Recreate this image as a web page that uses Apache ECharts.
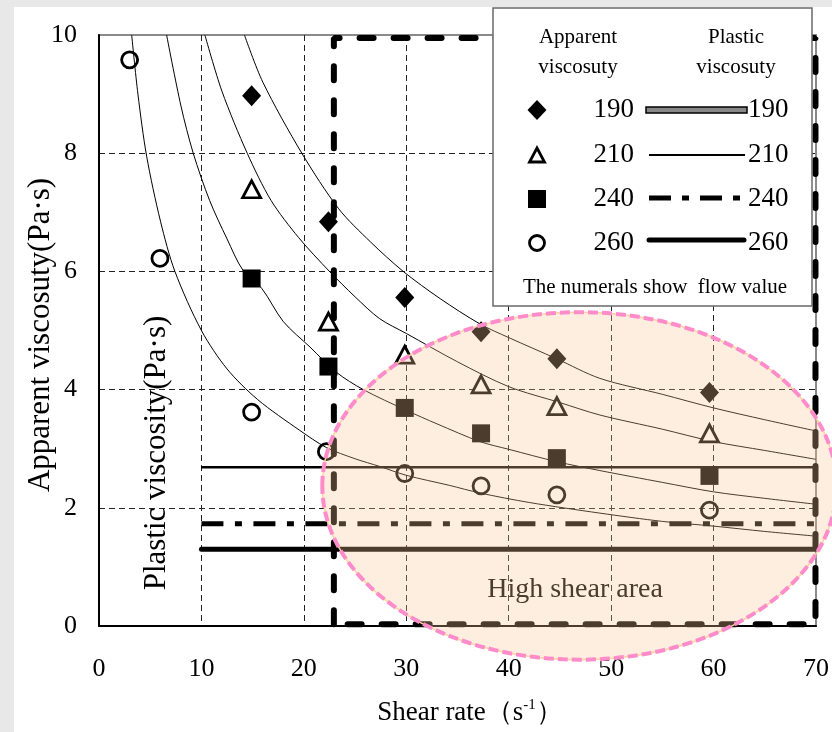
<!DOCTYPE html>
<html><head><meta charset="utf-8">
<script src="https://cdn.jsdelivr.net/npm/echarts@6/dist/echarts.min.js"></script>
<style>html,body{margin:0;padding:0;background:#fff}#c{width:832px;height:732px}</style>
</head><body><div id="c"></div>
<script>
// ---------- data ----------
const xTicks = [0, 10, 20, 30, 40, 50, 60, 70];
const yTicks = [0, 2, 4, 6, 8, 10];
const flowValues = ['190', '210', '240', '260'];

// apparent viscosity measurements (Pa·s) vs shear rate (1/s)
const shearRates = [14.9, 22.4, 29.85, 37.3, 44.7, 59.6];
const app190 = [8.97, 6.84, 5.56, 4.98, 4.52, 3.95];
const app210 = [7.39, 5.15, 4.59, 4.09, 3.72, 3.26];
const app240 = [5.88, 4.39, 3.69, 3.26, 2.84, 2.54];
const shearRates260 = [2.99, 5.95, 14.9, 22.2, 29.85, 37.3, 44.7, 59.6];
const app260 = [9.58, 6.22, 3.62, 2.95, 2.58, 2.37, 2.22, 1.96];

// fitted curves
const fit190X = [14.2, 16, 19.8, 23.4, 26.5, 29.7, 33.3, 37.2, 40, 44.7, 48.9, 55, 60, 65, 70];
const fit190Y = [10, 9.2, 8.0, 7.06, 6.5, 6.0, 5.54, 5.11, 4.88, 4.52, 4.19, 3.92, 3.69, 3.49, 3.30];
const fit210X = [10.34, 12, 14.47, 16.8, 19.5, 22.5, 25, 27.4, 30, 35, 40, 45, 48.9, 55, 60, 65, 70];
const fit210Y = [10, 9.05, 8.0, 7.2, 6.57, 6.0, 5.57, 5.2, 4.95, 4.47, 4.05, 3.78, 3.57, 3.33, 3.12, 2.97, 2.82];
const fit240X = [6.6, 8, 9.2, 10.8, 12.5, 14.05, 15.9, 18, 20.6, 23.2, 25.8, 30, 33, 37.2, 40, 44.7, 48.9, 55, 60, 65, 70];
const fit240Y = [10, 8.8, 8.0, 7.2, 6.55, 6.02, 5.71, 5.15, 4.72, 4.29, 4.0, 3.65, 3.42, 3.12, 2.99, 2.78, 2.63, 2.43, 2.27, 2.16, 2.06];
const fit260X = [3.19, 3.8, 4.65, 6, 7.41, 10, 12.5, 15.5, 19.6, 22.2, 25, 27.4, 30, 34.2, 37.2, 42, 48.9, 55, 60, 65, 70];
const fit260Y = [10, 9.0, 7.95, 6.85, 6.0, 5.0, 4.35, 3.83, 3.31, 3.02, 2.83, 2.7, 2.55, 2.38, 2.25, 2.09, 1.91, 1.77, 1.69, 1.6, 1.52];

// plastic viscosity (horizontal lines)
const plasticFlow = ['210', '240', '260'];
const plasticValues = [2.685, 1.73, 1.30];
const plasticRange = [10, 70];

// high shear region
const highShearX = [22.93, 69.95];
const highShearY = [0.03, 9.95];
const ellipseCenter = [46.9, 2.37];
const ellipseRadii = [25.1, 2.94];

// ---------- chart ----------
const FONT = 'Liberation Serif';
const pts = (xs, ys) => xs.map((x, i) => [x, ys[i]]);
const chart = echarts.init(document.getElementById('c'), null, {renderer: 'canvas'});

function curve(xs, ys) {
  return {type: 'line', data: pts(xs, ys), smooth: 0.3, showSymbol: false, silent: true,
    lineStyle: {color: '#000', width: 1}, z: 2};
}
function scatter(xs, ys, symbol, size, style) {
  return {type: 'scatter', data: pts(xs, ys), symbol, symbolSize: size, silent: true,
    itemStyle: Object.assign({opacity: 1}, style), emphasis: {disabled: true}, z: 3};
}
const plasticStyles = [
  {color: '#000', width: 2.5},
  {color: '#000', width: 5, type: [22, 11.5, 7, 11.5]},
  {color: '#000', width: 5, cap: 'round'}
];

const series = [
  curve(fit190X, fit190Y), curve(fit210X, fit210Y), curve(fit240X, fit240Y), curve(fit260X, fit260Y),
  scatter(shearRates, app190, 'diamond', [19, 21], {color: '#000'}),
  scatter(shearRates, app210, 'triangle', [18, 17], {color: '#fff', borderColor: '#000', borderWidth: 2.8}),
  scatter(shearRates, app240, 'rect', [18, 18], {color: '#000'}),
  scatter(shearRates260, app260, 'circle', 16, {color: 'rgba(255,255,255,0)', borderColor: '#000', borderWidth: 2.8})
];
plasticValues.forEach((v, i) => {
  series.push({type: 'line', data: [[plasticRange[0], v], [plasticRange[1], v]], showSymbol: false, silent: true,
    lineStyle: plasticStyles[i], z: 4});
});
series.push({type: 'line', clip: false, showSymbol: false, silent: true,
  data: [[highShearX[0], highShearY[0]], [highShearX[0], highShearY[1]], [highShearX[1], highShearY[1]],
         [highShearX[1], highShearY[0]], [highShearX[0], highShearY[0]]],
  lineStyle: {color: '#000', width: 6, type: [14, 20], cap: 'round'}, z: 5});

const axisLabel = {fontFamily: FONT, fontSize: 26, color: '#000'};
const splitLine = {show: true, showMinLine: false, showMaxLine: false, lineStyle: {color: '#222', width: 1, type: [6, 4]}};

chart.setOption({
  animation: false,
  backgroundColor: '#fff',
  grid: {left: 99, right: 16, top: 35, bottom: 106, show: true, borderColor: '#8a8a8a', borderWidth: 2, backgroundColor: '#fff'},
  xAxis: {type: 'value', min: xTicks[0], max: xTicks[xTicks.length - 1], interval: 10,
    axisLine: {show: true, lineStyle: {color: '#000', width: 2}}, axisTick: {show: false},
    axisLabel: Object.assign({margin: 30}, axisLabel), splitLine},
  yAxis: {type: 'value', min: yTicks[0], max: yTicks[yTicks.length - 1], interval: 2,
    axisLine: {show: true, lineStyle: {color: '#000', width: 2}}, axisTick: {show: false},
    axisLabel: Object.assign({margin: 22}, axisLabel), splitLine},
  series
});

// ---------- annotations (positioned through the chart's scales) ----------
const c = chart.convertToPixel({gridIndex: 0}, ellipseCenter);
const e1 = chart.convertToPixel({gridIndex: 0}, [ellipseCenter[0] + ellipseRadii[0], ellipseCenter[1] + ellipseRadii[1]]);
const rx = Math.abs(e1[0] - c[0]), ry = Math.abs(e1[1] - c[1]);

const L = {x: 493, y: 8, w: 319, h: 298};
const rowY = [110, 155, 199, 243];
const mx = 537;
const legend = [
  {type: 'rect', shape: {x: L.x, y: L.y, width: L.w, height: L.h}, style: {fill: '#fff', stroke: '#6a6a6a', lineWidth: 1.5}, z: 50},
  {type: 'text', x: 578, y: 37, style: {text: 'Apparent', font: '21px ' + FONT, fill: '#000', textAlign: 'center', textVerticalAlign: 'middle'}, z: 51},
  {type: 'text', x: 578, y: 67, style: {text: 'viscosuty', font: '21px ' + FONT, fill: '#000', textAlign: 'center', textVerticalAlign: 'middle'}, z: 51},
  {type: 'text', x: 736, y: 37, style: {text: 'Plastic', font: '21px ' + FONT, fill: '#000', textAlign: 'center', textVerticalAlign: 'middle'}, z: 51},
  {type: 'text', x: 736, y: 67, style: {text: 'viscosuty', font: '21px ' + FONT, fill: '#000', textAlign: 'center', textVerticalAlign: 'middle'}, z: 51},
  {type: 'text', x: 655, y: 287, style: {text: 'The numerals show  flow value', font: '21px ' + FONT, fill: '#000', textAlign: 'center', textVerticalAlign: 'middle'}, z: 51},
  // markers
  {type: 'polygon', shape: {points: [[mx, rowY[0] - 10], [mx + 9.5, rowY[0]], [mx, rowY[0] + 10], [mx - 9.5, rowY[0]]]}, style: {fill: '#000'}, z: 51},
  {type: 'polygon', shape: {points: [[mx, rowY[1] - 7], [mx + 7.5, rowY[1] + 7], [mx - 7.5, rowY[1] + 7]]}, style: {fill: '#fff', stroke: '#000', lineWidth: 2.8}, z: 51},
  {type: 'rect', shape: {x: mx - 9, y: rowY[2] - 9, width: 18, height: 18}, style: {fill: '#000'}, z: 51},
  {type: 'circle', shape: {cx: mx, cy: rowY[3], r: 7.5}, style: {fill: '#fff', stroke: '#000', lineWidth: 2.8}, z: 51},
  // line samples
  {type: 'rect', shape: {x: 646, y: 107, width: 101, height: 6}, style: {fill: '#888', stroke: '#000', lineWidth: 1.5}, z: 51},
  {type: 'line', shape: {x1: 649, y1: rowY[1], x2: 745, y2: rowY[1]}, style: {stroke: '#000', lineWidth: 2}, z: 51},
  {type: 'line', shape: {x1: 649, y1: rowY[2] - 1, x2: 747, y2: rowY[2] - 1}, style: {stroke: '#000', lineWidth: 5, lineDash: [22, 11, 7, 11]}, z: 51},
  {type: 'line', shape: {x1: 649, y1: 240, x2: 744, y2: 240}, style: {stroke: '#000', lineWidth: 5, lineCap: 'round'}, z: 51}
];
flowValues.forEach((f, i) => {
  legend.push({type: 'text', x: 634, y: rowY[i], style: {text: f, font: '27px ' + FONT, fill: '#000', textAlign: 'right', textVerticalAlign: 'middle'}, z: 51});
  legend.push({type: 'text', x: 748, y: rowY[i], style: {text: f, font: '27px ' + FONT, fill: '#000', textAlign: 'left', textVerticalAlign: 'middle'}, z: 51});
});

const graphic = [
  {type: 'rect', shape: {x: 0, y: 0, width: 832, height: 7}, style: {fill: '#e8e8e8'}, z: 1},
  {type: 'rect', shape: {x: 0, y: 0, width: 14, height: 732}, style: {fill: '#e8e8e8'}, z: 1},
  {type: 'ellipse', shape: {cx: c[0], cy: c[1], rx, ry}, style: {fill: 'rgba(247,200,153,0.3)', stroke: '#f9d49c', lineWidth: 1.5}, z: 40},
  {type: 'ellipse', shape: {cx: c[0], cy: c[1], rx, ry}, style: {fill: null, stroke: '#ff8cca', lineWidth: 4, lineDash: [10, 4]}, z: 41},
  {type: 'text', x: 575, y: 590, style: {text: 'High shear area', font: '28px ' + FONT, fill: '#4a3c2e', textAlign: 'center', textVerticalAlign: 'middle'}, z: 42},
  {type: 'text', x: 41, y: 335, rotation: Math.PI / 2, style: {text: 'Apparent viscosuty(Pa·s)', font: '31px ' + FONT, fill: '#000', textAlign: 'center', textVerticalAlign: 'middle'}, z: 30},
  {type: 'text', x: 157, y: 453, rotation: Math.PI / 2, style: {text: 'Plastic viscosity(Pa·s)', font: '31px ' + FONT, fill: '#000', textAlign: 'center', textVerticalAlign: 'middle'}, z: 30},
  {type: 'text', x: 470, y: 713, style: {
    text: '{n|Shear rate（s}{s|-1}{n|）}', textAlign: 'center', textVerticalAlign: 'middle',
    rich: {n: {fontFamily: FONT, fontSize: 27, lineHeight: 30, fill: '#000'}, s: {fontFamily: FONT, fontSize: 15, lineHeight: 15, verticalAlign: 'top', fill: '#000'}}}, z: 30}
].concat(legend);

chart.setOption({graphic});
</script></body></html>
